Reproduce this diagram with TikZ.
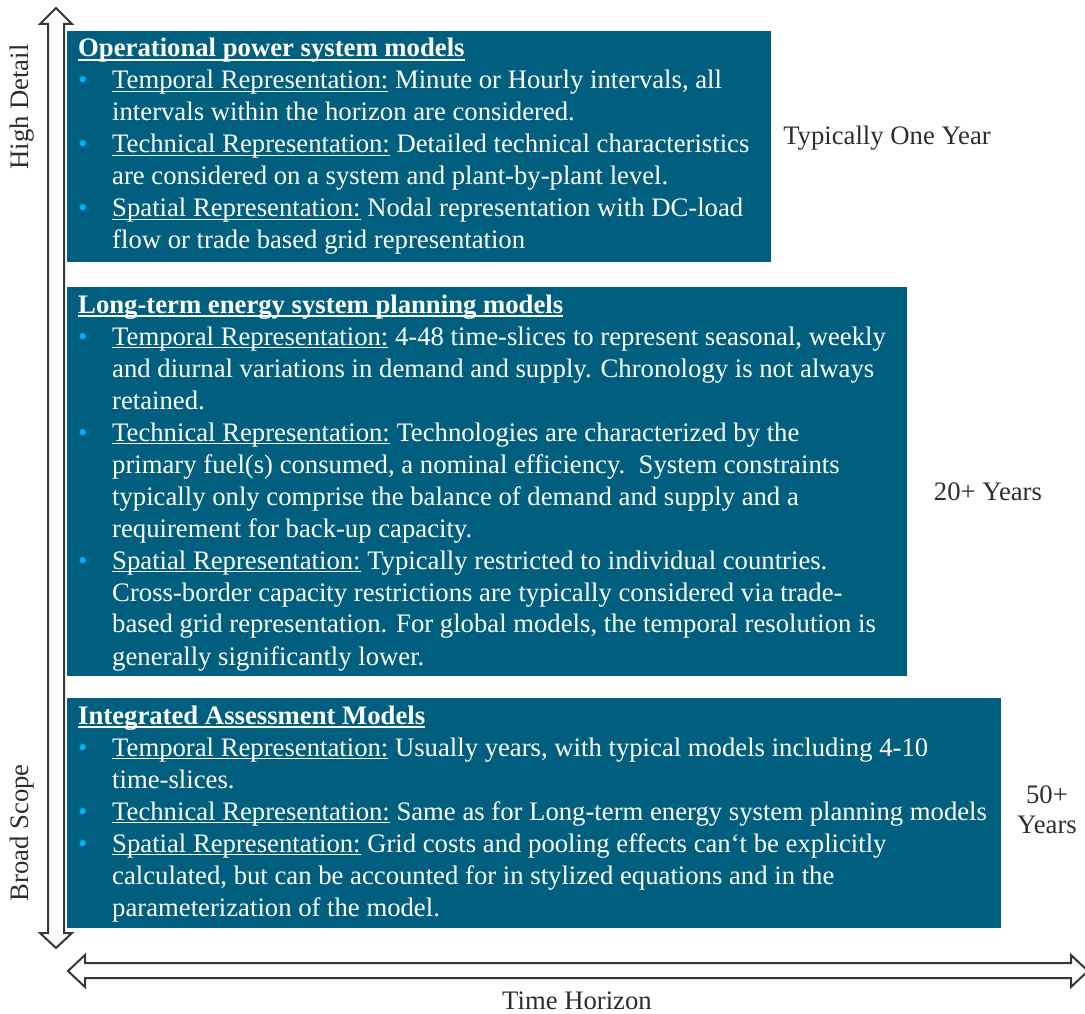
\documentclass[tikz,border=0pt]{standalone}
\usepackage{fontspec}
\setmainfont{Liberation Serif}
\definecolor{boxblue}{RGB}{0,95,127}
\definecolor{bulblue}{RGB}{0,176,240}
\definecolor{ink}{RGB}{45,45,45}
\definecolor{arrowgray}{RGB}{55,55,55}

\newsavebox\ulinebox
% underline placed just below the baseline
\newcommand\ulx[1]{\leavevmode\sbox\ulinebox{#1}\rlap{\rule[-3.2pt]{\wd\ulinebox}{1.3pt}}\usebox\ulinebox}
\newcommand\ulb[1]{\leavevmode\sbox\ulinebox{\bfseries #1}\rlap{\rule[-3.6pt]{\wd\ulinebox}{1.8pt}}\usebox\ulinebox}
\newcommand\itm{\leavevmode\makebox[34pt][l]{\textcolor{bulblue}{•}}}
\newcommand\ind{\hspace*{34pt}}
\newcommand\bigfont{\fontsize{26.7}{32}\selectfont}

\begin{document}
\begin{tikzpicture}[x=1pt,y=-1pt,
  panel/.style={fill=boxblue, draw=none, inner sep=0, anchor=north west},
  boxtext/.style={anchor=base west, inner sep=0, text=white, font=\bigfont},
  sidelabel/.style={inner sep=0, text=ink, font=\bigfont, align=center},
  blockarrow/.style={draw=arrowgray, fill=white, line width=2pt, line join=miter}]
\useasboundingbox (0,0) rectangle (1085,1014);

% vertical scope/detail arrow
\draw[blockarrow] (56,8) -- (72,24) -- (64,24) -- (64,933) -- (72,933) -- (56,948)
  -- (40,933) -- (48,933) -- (48,24) -- (40,24) -- cycle;
% horizontal time-horizon arrow
\draw[blockarrow] (68,971) -- (85,955) -- (85,963) -- (1071,963) -- (1071,955) -- (1088,971)
  -- (1071,987) -- (1071,978) -- (85,978) -- (85,987) -- cycle;

% panels
\node[panel, minimum width=704, minimum height=231] (oppanel) at (67,31) {};
\node[panel, minimum width=840, minimum height=389] (ltpanel) at (67,287) {};
\node[panel, minimum width=934, minimum height=230] (iampanel) at (67,698) {};

\node[boxtext] (optext) at (78,57) {\parbox[t]{1100pt}{\bigfont\raggedright
\ulb{Operational power system models}\\
\itm\ulx{Temporal Representation:} Minute or Hourly intervals, all\\
\ind intervals within the horizon are considered.\\
\itm\ulx{Technical Representation:} Detailed technical characteristics\\
\ind are considered on a system and plant-by-plant level.\\
\itm\ulx{Spatial Representation:} Nodal representation with DC-load\\
\ind flow or trade based grid representation}};

\node[boxtext] (lttext) at (78,313) {\parbox[t]{1100pt}{\bigfont\raggedright
\ulb{Long-term energy system planning models}\\
\itm\ulx{Temporal Representation:} 4-48 time-slices to represent seasonal, weekly\\
\ind and diurnal variations in demand and supply. Chronology is not always\\
\ind retained.\\
\itm\ulx{Technical Representation:} Technologies are characterized by the\\
\ind primary fuel(s) consumed, a nominal efficiency.\ \ System constraints\\
\ind typically only comprise the balance of demand and supply and a\\
\ind requirement for back-up capacity.\\
\itm\ulx{Spatial Representation:} Typically restricted to individual countries.\\
\ind Cross-border capacity restrictions are typically considered via trade-\\
\ind based grid representation. For global models, the temporal resolution is\\
\ind generally significantly lower.}};

\node[boxtext] (iamtext) at (78,724) {\parbox[t]{1100pt}{\bigfont\raggedright
\ulb{Integrated Assessment Models}\\
\itm\ulx{Temporal Representation:} Usually years, with typical models including 4-10\\
\ind time-slices.\\
\itm\ulx{Technical Representation:} Same as for Long-term energy system planning models\\
\itm\ulx{Spatial Representation:} Grid costs and pooling effects can‘t be explicitly\\
\ind calculated, but can be accounted for in stylized equations and in the\\
\ind parameterization of the model.}};

% horizon labels
\node[sidelabel] (oneyear) at (887,138) {Typically One Year};
\node[sidelabel] (twenty) at (988,492) {20+ Years};
\node[sidelabel] (fifty) at (1047,810) {50+\\[-2pt]Years};

% axis labels
\node[sidelabel, rotate=90] (highdetail) at (22,107) {High Detail};
\node[sidelabel, rotate=90] (broadscope) at (22,833) {Broad Scope};
\node[sidelabel] (timehorizon) at (577,1001) {Time Horizon};
\end{tikzpicture}
\end{document}
